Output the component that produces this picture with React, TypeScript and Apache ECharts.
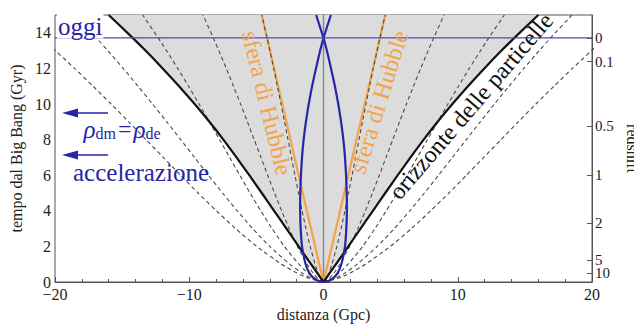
import React, { useEffect, useRef } from "react";
import * as echarts from "echarts";

// ---- data (Gyr for time, Gpc for proper distance) ----
const worldTimes = [0, 0.2, 0.5, 1, 2, 3, 4, 5, 6, 7, 8, 9, 10, 11, 12, 13, 13.7, 15];
// comoving galaxies' worldlines (right-hand side; left side is their mirror)
const worldline1 = [0, 0.214, 0.394, 0.625, 0.995, 1.31, 1.597, 1.868, 2.13, 2.387, 2.644, 2.902, 3.165, 3.433, 3.709, 3.994, 4.2, 4.599];
const worldline2 = [0, 0.417, 0.769, 1.221, 1.943, 2.558, 3.118, 3.647, 4.158, 4.661, 5.163, 5.666, 6.179, 6.703, 7.241, 7.798, 8.2, 8.979];
const worldline3 = [0, 0.626, 1.154, 1.831, 2.915, 3.836, 4.676, 5.471, 6.237, 6.991, 7.744, 8.499, 9.268, 10.054, 10.861, 11.697, 12.3, 13.469];
const worldline4 = [0, 0.86, 1.585, 2.516, 4.005, 5.271, 6.425, 7.517, 8.57, 9.606, 10.64, 11.678, 12.734, 13.814, 14.923, 16.072, 16.9, 18.506];
const worldline5 = [0, 1.069, 1.97, 3.127, 4.977, 6.55, 7.984, 9.341, 10.649, 11.936, 13.222, 14.511, 15.824, 17.165, 18.543, 19.971, 21, 22.995];

const horizonTimes = [0, 1, 2, 3, 4, 5, 6, 7, 8, 9, 10, 11, 12, 13, 13.7, 15];
const horizonDist = [0, 0.93, 1.85, 2.76, 3.68, 4.6, 5.53, 6.48, 7.46, 8.5, 9.6, 10.76, 11.98, 13.26, 14.2, 16.0];

const hubbleTimes = [0, 2, 4, 6, 8, 10, 12, 13.7, 15];
const hubbleDist = [0, 0.62, 1.24, 1.85, 2.46, 3.07, 3.68, 4.2, 4.6];

const coneTimes = [0, 0.05, 0.2, 0.5, 1, 2, 3, 4, 5, 6, 7, 8, 9, 10, 11, 12, 13, 13.7, 15];
const coneDist = [0, 0.35, 0.7, 1.05, 1.33, 1.6, 1.7, 1.74, 1.73, 1.68, 1.6, 1.48, 1.31, 1.1, 0.85, 0.56, 0.25, 0, -0.55];

const today = 13.72;

const redshiftLabels = ["0", "0.1", "0.5", "1", "2", "5", "10"];
const redshiftTimes = [13.72, 12.38, 8.76, 6.01, 3.31, 1.24, 0.5];

const FONT = '"Liberation Serif", "DejaVu Serif", serif';
const BLUE = "#2626a6";
const ORANGE = "#f4a447";

export default function App() {
  const ref = useRef<HTMLDivElement>(null);

  useEffect(() => {
    if (!ref.current) return;
    const chart = echarts.init(ref.current, undefined, { renderer: "svg" });

    const pairs = (xs: number[], ts: number[], sign = 1) => xs.map((x, i) => [sign * x, ts[i]]);

    const worldlines = [worldline1, worldline2, worldline3, worldline4, worldline5];
    const dashedSeries: any[] = [];
    worldlines.forEach((w) => {
      [1, -1].forEach((s) => {
        dashedSeries.push({
          type: "line",
          data: pairs(w, worldTimes, s),
          showSymbol: false,
          smooth: 0.2,
          clip: true,
          z: 4,
          silent: true,
          lineStyle: { color: "#4a4a4a", width: 1.1, type: [4, 3] },
        });
      });
    });

    const rightHorizon = pairs(horizonDist, horizonTimes, 1);
    const leftHorizon = pairs(horizonDist, horizonTimes, -1);
    const fillPts = [...leftHorizon.slice().reverse(), ...rightHorizon.slice(1)];

    const simpleLine = (data: number[][], color: string, width: number, z: number) => ({
      type: "line",
      data,
      showSymbol: false,
      smooth: 0.2,
      clip: true,
      z,
      silent: true,
      lineStyle: { color, width },
    });

    const arrow = (y: number) => ({
      type: "group",
      children: [
        { type: "line", shape: { x1: 74, y1: y, x2: 108, y2: y }, style: { stroke: BLUE, lineWidth: 1.5 } },
        { type: "polygon", shape: { points: [[62, y], [78, y - 4.5], [78, y + 4.5]] }, style: { fill: BLUE } },
      ],
    });

    // the "5" label sits on its own (invisible-line) axis so that it is not hidden by the "10" label
    const soloIdx = redshiftLabels.indexOf("5");
    const mainTimes = redshiftTimes.filter((_, i) => i !== soloIdx);
    const soloTimes = [redshiftTimes[soloIdx]];
    const zLabel = (v: number) => {
      const i = redshiftTimes.findIndex((t) => Math.abs(t - v) < 1e-6);
      return i >= 0 ? redshiftLabels[i] : "";
    };
    const redshiftAxis = (values: number[], withLine: boolean, name: string) => ({
      type: "value",
      min: 0,
      max: 15,
      position: "right",
      offset: 0,
      name,
      nameLocation: "middle",
      nameRotate: -90,
      nameGap: 30,
      nameTextStyle: { fontFamily: FONT, fontSize: 16, color: "#222" },
      axisLine: { show: withLine, lineStyle: { color: "#555" } },
      axisTick: { show: true, inside: true, length: 5, customValues: values, lineStyle: { color: "#555" } },
      splitLine: { show: false },
      axisLabel: {
        fontFamily: FONT,
        fontSize: 15,
        color: "#222",
        margin: 3,
        showMinLabel: true,
        showMaxLabel: true,
        customValues: values,
        formatter: zLabel,
      },
    });

    chart.setOption({
      animation: false,
      grid: {
        left: 55,
        right: 42,
        top: 15,
        bottom: 45,
        show: true,
        borderColor: "#555",
        borderWidth: 1,
        outerBoundsMode: "none",
        containLabel: false,
      },
      xAxis: {
        type: "value",
        min: -20,
        max: 20,
        interval: 10,
        name: "distanza (Gpc)",
        nameLocation: "middle",
        nameGap: 24,
        nameTextStyle: { fontFamily: FONT, fontSize: 16, color: "#222" },
        axisLine: { lineStyle: { color: "#555" } },
        axisTick: { inside: true, length: 5, lineStyle: { color: "#555" } },
        minorTick: { show: true, splitNumber: 5, length: 3, lineStyle: { color: "#555" } },
        splitLine: { show: false },
        axisLabel: {
          fontFamily: FONT,
          fontSize: 16,
          color: "#222",
          margin: 4,
          formatter: (v: number) => (v < 0 ? "\u2212" + Math.abs(v) : String(v)),
        },
      },
      yAxis: [
        {
          type: "value",
          min: 0,
          max: 15,
          interval: 2,
          name: "tempo dal Big Bang (Gyr)",
          nameLocation: "middle",
          nameRotate: 90,
          nameGap: 31,
          nameTextStyle: { fontFamily: FONT, fontSize: 16, color: "#222" },
          axisLine: { show: true, lineStyle: { color: "#555" } },
          axisTick: { inside: true, length: 5, lineStyle: { color: "#555" } },
          minorTick: { show: true, splitNumber: 4, length: 3, lineStyle: { color: "#555" } },
          splitLine: { show: false },
          axisLabel: { fontFamily: FONT, fontSize: 16, color: "#222", margin: 4, showMaxLabel: false },
        },
        redshiftAxis(mainTimes, true, "redshift"),
        redshiftAxis(soloTimes, false, ""),
      ],
      series: [
        {
          type: "custom",
          silent: true,
          z: 1,
          clip: true,
          data: [[0, 0]],
          renderItem: (_p: any, api: any) => ({
            type: "polygon",
            shape: { points: fillPts.map((p) => api.coord(p)) },
            style: { fill: "#dcdcdc" },
          }),
        },
        simpleLine([[0, 0], [0, 15]], "#8a8a8a", 1.5, 2),
        simpleLine(pairs(hubbleDist, hubbleTimes, 1), ORANGE, 2.2, 3),
        simpleLine(pairs(hubbleDist, hubbleTimes, -1), ORANGE, 2.2, 3),
        ...dashedSeries,
        simpleLine(rightHorizon, "#111", 2.2, 5),
        simpleLine(leftHorizon, "#111", 2.2, 5),
        simpleLine(pairs(coneDist, coneTimes, 1), BLUE, 2.2, 6),
        simpleLine(pairs(coneDist, coneTimes, -1), BLUE, 2.2, 6),
        simpleLine([[-20, today], [20, today]], "#4a4ac4", 1.2, 7),
      ],
      graphic: [
        {
          type: "text",
          x: 57,
          y: 26,
          z: 10,
          style: {
            text: "oggi",
            font: `25px ${FONT}`,
            fill: BLUE,
            verticalAlign: "middle",
            align: "left",
            backgroundColor: "#fff",
            padding: [0, 1, 0, 1],
          },
        },
        arrow(113),
        arrow(155),
        {
          type: "text",
          x: 122,
          y: 129,
          z: 10,
          style: {
            text: "{r|ρ}{s|dm}{e|=}{r|ρ}{s|de}",
            align: "center",
            verticalAlign: "middle",
            rich: {
              r: { font: `italic 25px ${FONT}`, fill: BLUE, verticalAlign: "middle" },
              s: { font: `16px ${FONT}`, fill: BLUE, verticalAlign: "bottom", padding: [8, 0, 0, 0] },
              e: { font: `24px ${FONT}`, fill: BLUE, padding: [0, 2, 0, 2] },
            },
          },
        },
        {
          type: "text",
          x: 141,
          y: 172,
          z: 10,
          style: { text: "accelerazione", font: `25px ${FONT}`, fill: BLUE, align: "center", verticalAlign: "middle" },
        },
        {
          type: "text",
          x: 267,
          y: 103,
          rotation: -1.33,
          z: 10,
          style: { text: "sfera di Hubble", font: `24px ${FONT}`, fill: ORANGE, align: "center", verticalAlign: "middle" },
        },
        {
          type: "text",
          x: 379,
          y: 102,
          rotation: 1.27,
          z: 10,
          style: { text: "sfera di Hubble", font: `24px ${FONT}`, fill: ORANGE, align: "center", verticalAlign: "middle" },
        },
        {
          type: "text",
          x: 471,
          y: 106,
          rotation: 0.86,
          z: 10,
          style: { text: "orizzonte delle particelle", font: `24px ${FONT}`, fill: "#111", align: "center", verticalAlign: "middle" },
        },
      ],
    });

    return () => chart.dispose();
  }, []);

  return <div ref={ref} style={{ width: 634, height: 327, position: "absolute", left: 0, top: 0, background: "#fff" }} />;
}
